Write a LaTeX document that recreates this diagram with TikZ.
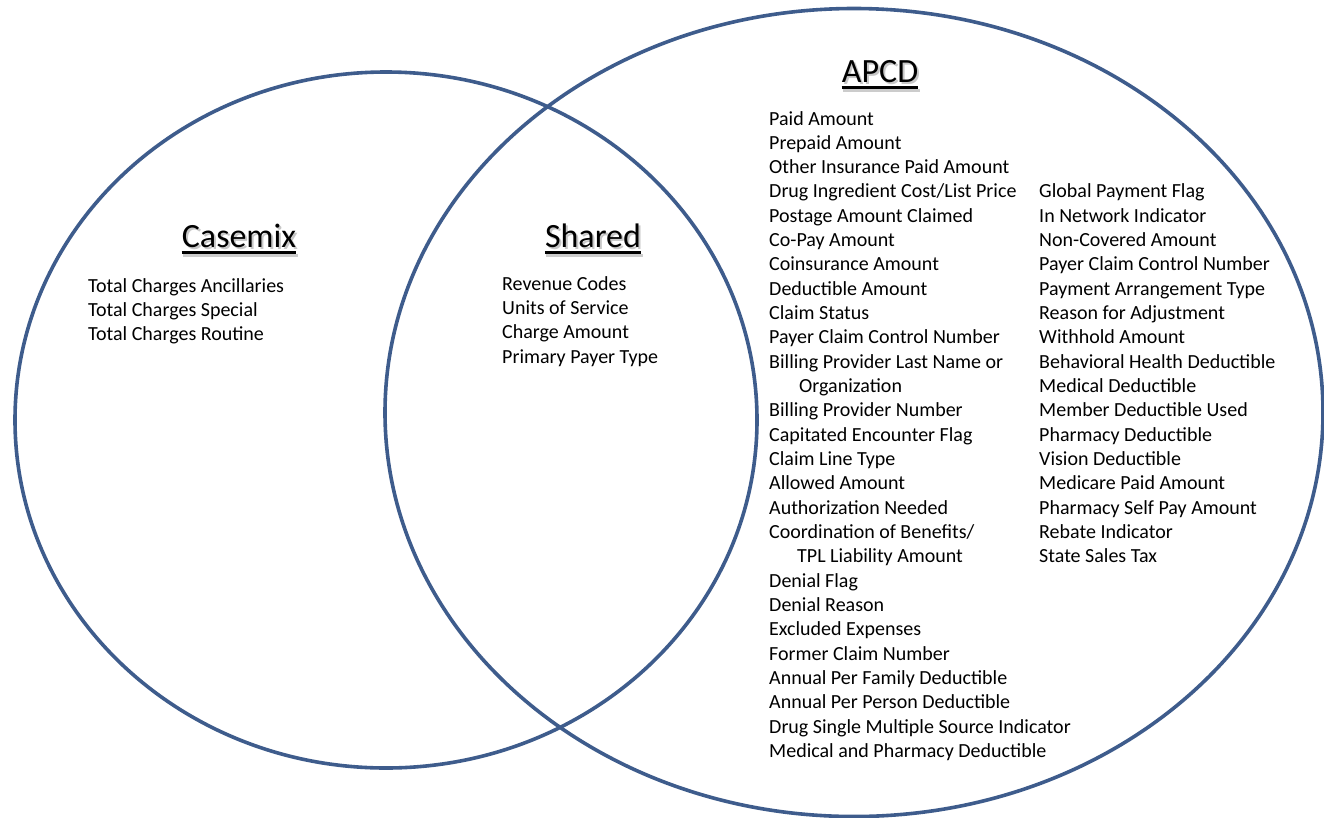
\documentclass[tikz,border=0pt]{standalone}
\usepackage{fontspec}
\setmainfont{Carlito}
\definecolor{ringblue}{RGB}{62,92,140}
\begin{document}
\begin{tikzpicture}[x=1pt,y=-1pt,
  ring/.style={draw=ringblue, line width=3.6pt},
  item/.style={anchor=base west, inner sep=0pt, font=\fontsize{20}{24}\selectfont},
  head/.style={anchor=base, inner sep=0pt, font=\fontsize{34}{40}\selectfont},
  headshadow/.style={head, text=black!22},
  uline/.style={line width=2.8pt},
  ulshadow/.style={line width=3pt, draw=black!20}]
\useasboundingbox[fill=white] (0,0) rectangle (1324,817);
% circles
\draw[ring] (386,420) ellipse [x radius=371, y radius=348];
\draw[ring] (854,412.5) ellipse [x radius=469, y radius=404];
% headings
\node[headshadow] at (241,249) {Casemix};
\node[headshadow] at (595,249) {Shared};
\node[headshadow] at (882,84) {APCD};
\node[head] (casemix) at (239,247) {Casemix};
\node[head] (shared) at (593,247) {Shared};
\node[head] (apcd) at (880,82) {APCD};
\foreach \n in {casemix,shared,apcd}{
  \draw[ulshadow] ([xshift=1.5pt,yshift=-8pt]\n.base west) -- ([xshift=1.5pt,yshift=-8pt]\n.base east);
  \draw[uline] ([yshift=-5.5pt]\n.base west) -- ([yshift=-5.5pt]\n.base east);
}
% Casemix list
\foreach [count=\i from 0] \t in {Total Charges Ancillaries, Total Charges Special, Total Charges Routine}
  \node[item] (c\i) at (88,{292+24.35*\i}) {\t};
% Shared list
\foreach [count=\i from 0] \t in {Revenue Codes, Units of Service, Charge Amount, Primary Payer Type}
  \node[item] (s\i) at (502,{290+24.35*\i}) {\t};
% APCD column 1
\foreach [count=\i from 0] \t in {Paid Amount, Prepaid Amount, Other Insurance Paid Amount,
  Drug Ingredient Cost/List Price, Postage Amount Claimed, Co-Pay Amount, Coinsurance Amount,
  Deductible Amount, Claim Status, Payer Claim Control Number, Billing Provider Last Name or,
  {\hspace{30pt}Organization}, Billing Provider Number, Capitated Encounter Flag, Claim Line Type,
  Allowed Amount, Authorization Needed, Coordination of Benefits/, {\hspace{28pt}TPL Liability Amount},
  Denial Flag, Denial Reason, Excluded Expenses, Former Claim Number, Annual Per Family Deductible,
  Annual Per Person Deductible, Drug Single Multiple Source Indicator, Medical and Pharmacy Deductible}
  \node[item] (a\i) at (769,{125+24.33*\i}) {\t};
% APCD column 2
\foreach [count=\i from 3] \t in {Global Payment Flag, In Network Indicator, Non-Covered Amount,
  Payer Claim Control Number, Payment Arrangement Type, Reason for Adjustment, Withhold Amount,
  Behavioral Health Deductible, Medical Deductible, Member Deductible Used, Pharmacy Deductible,
  Vision Deductible, Medicare Paid Amount, Pharmacy Self Pay Amount, Rebate Indicator, State Sales Tax}
  \node[item] (b\i) at (1039,{125+24.33*\i}) {\t};
\end{tikzpicture}
\end{document}
